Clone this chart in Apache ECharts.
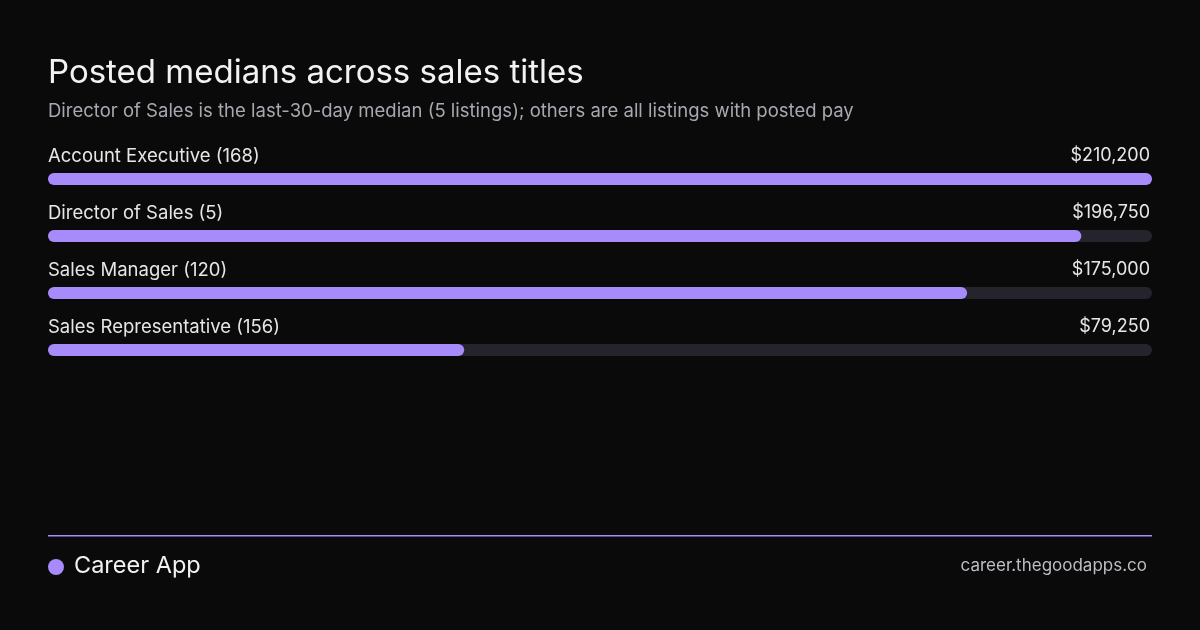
<!DOCTYPE html>
<html><head><meta charset="utf-8">
<script src="https://cdn.jsdelivr.net/npm/echarts@6/dist/echarts.min.js"></script>
<style>html,body{margin:0;background:#0a0a0a}#c{width:1200px;height:630px}</style>
</head><body><div id="c"></div>
<script>
const categories = ['Account Executive (168)','Director of Sales (5)','Sales Manager (120)','Sales Representative (156)'];
const values = [210200,196750,175000,79250];
const valueLabels = ['$210,200','$196,750','$175,000','$79,250'];
const maxValue = 210200;
const chart = echarts.init(document.getElementById('c'));
const F = 'Inter, "Noto Sans", sans-serif';
chart.setOption({
  backgroundColor:'#0a0a0a',
  animation:false,
  title:{text:'Posted medians across sales titles',subtext:'Director of Sales is the last-30-day median (5 listings); others are all listings with posted pay',
    left:43,top:52,itemGap:12,
    textStyle:{color:'#f2f2f2',fontFamily:F,fontSize:33,fontWeight:400},
    subtextStyle:{color:'#a8a8b0',fontFamily:F,fontSize:18.5}},
  grid:{left:48,right:48,top:150.5,height:228},
  xAxis:{type:'value',min:0,max:maxValue,show:false},
  yAxis:{type:'category',data:categories,inverse:true,show:false},
  series:[
    {type:'bar',data:values.map(()=>maxValue),barWidth:12,barGap:'-100%',z:1,silent:true,
     itemStyle:{color:'#25242c',borderRadius:6},
     label:{show:true,position:'insideRight',offset:[3,-23],color:'#e6e6e6',fontFamily:F,fontSize:18,
       formatter:p=>valueLabels[p.dataIndex]}},
    {type:'bar',data:values,barWidth:12,z:2,
     itemStyle:{color:'#a78bfa',borderRadius:6},
     label:{show:true,position:'insideLeft',offset:[-5,-23],color:'#e6e6e6',fontFamily:F,fontSize:18.5,
       formatter:p=>categories[p.dataIndex]}}
  ],
  graphic:[
    {type:'rect',shape:{x:48,y:535,width:1104,height:1.5},style:{fill:'#a78bfa'}},
    {type:'circle',shape:{cx:56,cy:567,r:8},style:{fill:'#a78bfa'}},
    {type:'text',left:74,top:554,style:{text:'Career App',fill:'#f2f2f2',font:'23.5px '+F}},
    {type:'text',right:53,top:557,style:{text:'career.thegoodapps.co',fill:'#bdbdc4',font:'17px '+F}}
  ]
});
</script></body></html>
